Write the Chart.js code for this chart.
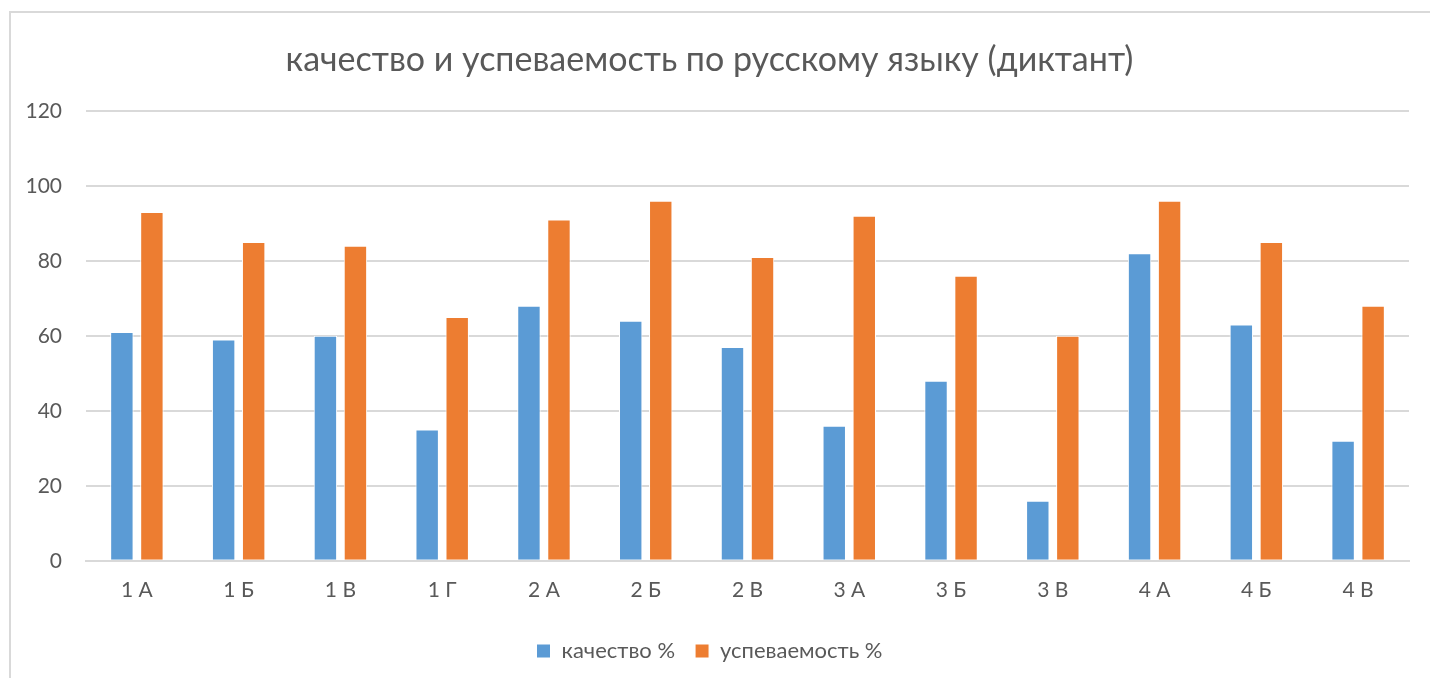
<!DOCTYPE html>
<html><head><meta charset="utf-8">
<script src="https://cdn.jsdelivr.net/npm/chart.js@4.4.1/dist/chart.umd.min.js"></script>
<style>
html,body{margin:0;padding:0;background:#fff;width:1430px;height:678px;overflow:hidden}
#frame{position:absolute;left:9px;top:11px;width:1440px;height:700px;border:2px solid #d9d9d9;box-sizing:border-box}
#c{position:absolute;left:0;top:0}
</style></head>
<body>
<div id="frame"></div>
<canvas id="c" width="1430" height="678"></canvas>
<script>
const categories = ["1 А","1 Б","1 В","1 Г","2 А","2 Б","2 В","3 А","3 Б","3 В","4 А","4 Б","4 В"];
const quality = [61,59,60,35,68,64,57,36,48,16,82,63,32];
const progress = [93,85,84,65,91,96,81,92,76,60,96,85,68];
const seriesNames = ["качество %","успеваемость %"];
const titleText = "качество и успеваемость по русскому языку (диктант)";
const FONT = "Lato";
const TXT = "#595959";

new Chart(document.getElementById('c'), {
  type: 'bar',
  data: {
    labels: categories,
    datasets: [
      {label: seriesNames[0], data: quality, backgroundColor: '#5b9bd5', borderColor:'#ffffff', borderWidth:1, categoryPercentage:0.59, barPercentage:0.78},
      {label: seriesNames[1], data: progress, backgroundColor: '#ed7d31', borderColor:'#ffffff', borderWidth:1, categoryPercentage:0.59, barPercentage:0.78}
    ]
  },
  options: {
    responsive: false,
    animation: false,
    layout: {padding: {left: 10, right: 21, top: 40, bottom: 6}},
    plugins: {
      title: {display: true, text: titleText, color: TXT, font: {family: FONT, size: 34, weight: 'normal'}, padding: {top: 0, bottom: 30}},
      legend: {position: 'bottom', labels: {color: TXT, font: {family: FONT, size: 22}, boxWidth: 14, boxHeight: 14, padding: 20}},
      tooltip: {enabled: false}
    },
    scales: {
      x: {
        grid: {display: false, drawTicks: false},
        border: {color: '#d9d9d9', width: 2},
        ticks: {color: TXT, font: {family: FONT, size: 21}, padding: 17}
      },
      y: {
        min: 0, max: 120,
        ticks: {stepSize: 20, color: TXT, font: {family: FONT, size: 21}, padding: 24},
        grid: {color: '#d9d9d9', lineWidth: 2, drawTicks: false},
        border: {display: false},
        afterFit: s => { s.width = 76; }
      }
    }
  }
});
</script>
</body></html>
